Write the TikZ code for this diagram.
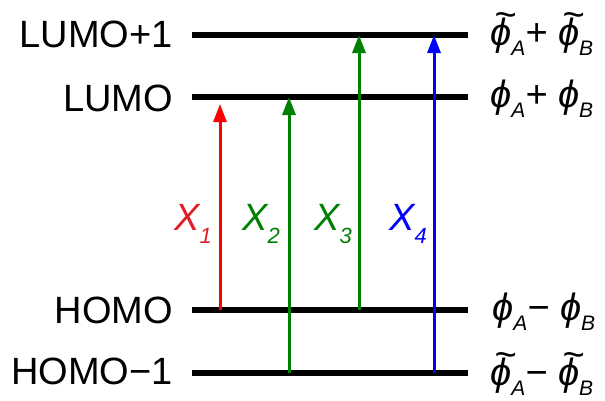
\documentclass[tikz,border=0pt]{standalone}
\usepackage{fontspec}
\setmainfont{Liberation Sans}
\usetikzlibrary{arrows.meta}
\definecolor{cred}{RGB}{255,0,0}
\definecolor{cgreen}{RGB}{0,128,0}
\definecolor{cblue}{RGB}{0,0,255}
\definecolor{lred}{RGB}{225,30,40}
\newcommand\xsub[1]{\raisebox{-13pt}{\fontsize{22}{22}\selectfont #1}}
\newcommand\psub[1]{\raisebox{-10pt}{\fontsize{21}{21}\selectfont #1}}
\newcommand\tph{\makebox[0pt][l]{\hspace{4.5pt}\raisebox{18pt}{\textasciitilde}}ϕ}
\begin{document}
\begin{tikzpicture}[x=1pt,y=-1pt,
  level/.style={line width=6pt},
  trans/.style={line width=3pt,-{Triangle[width=13pt,length=18pt]}},
  lvlabel/.style={anchor=base east,inner sep=0pt,font=\fontsize{38}{38}\selectfont},
  xlabel/.style={anchor=base west,inner sep=0pt,font=\fontsize{38}{38}\selectfont\itshape},
  orb/.style={anchor=base west,inner sep=0pt,font=\fontsize{38}{38}\selectfont\itshape}]
\useasboundingbox (0,0) rectangle (605,400);
% levels
\coordinate (l1a) at (192,35);  \coordinate (l1b) at (468,35);
\coordinate (l2a) at (192,97);  \coordinate (l2b) at (468,97);
\coordinate (l3a) at (192,310); \coordinate (l3b) at (468,310);
\coordinate (l4a) at (192,373); \coordinate (l4b) at (468,373);
\draw[level] (l1a) -- (l1b);
\draw[level] (l2a) -- (l2b);
\draw[level] (l3a) -- (l3b);
\draw[level] (l4a) -- (l4b);
% left labels
\node[lvlabel] (t1) at (173,47) {LUMO+1};
\node[lvlabel] (t2) at (173,111) {LUMO};
\node[lvlabel] (t3) at (173,323) {HOMO};
\node[lvlabel] (t4) at (173,384) {HOMO−1};
% transition arrows
\coordinate (r0) at (220,310); \coordinate (r1) at (220,104);
\coordinate (g0) at (289,373); \coordinate (g1) at (289,97);
\coordinate (h0) at (359,310); \coordinate (h1) at (359,35);
\coordinate (b0) at (434,373); \coordinate (b1) at (434,35);
\draw[trans,cred] (r0) -- (r1);
\draw[trans,cgreen] (g0) -- (g1);
\draw[trans,cgreen] (h0) -- (h1);
\draw[trans,cblue] (b0) -- (b1);
% transition labels
\node[xlabel,lred] (x1) at (174,230) {X\xsub{1}};
\node[xlabel,cgreen] (x2) at (242,230) {X\xsub{2}};
\node[xlabel,cgreen] (x3) at (314,230) {X\xsub{3}};
\node[xlabel,cblue] (x4) at (389,230) {X\xsub{4}};
% orbital labels
\node[orb] (o1) at (490,45) {\tph\psub{A}+ \tph\psub{B}};
\node[orb] (o2) at (490,107) {ϕ\psub{A}+ ϕ\psub{B}};
\node[orb] (o3) at (492,320) {ϕ\psub{A}− ϕ\psub{B}};
\node[orb] (o4) at (490,385) {\tph\psub{A}− \tph\psub{B}};
\end{tikzpicture}
\end{document}
